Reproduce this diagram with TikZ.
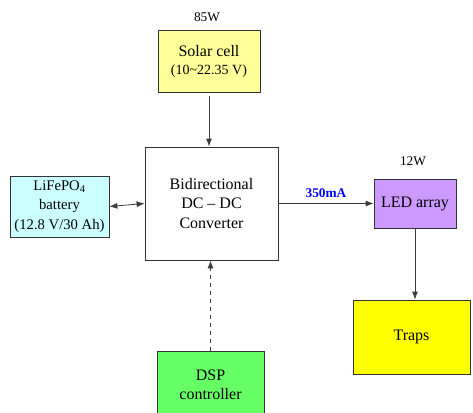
\documentclass[tikz,border=0pt]{standalone}
\usepackage{fontspec}
\setmainfont{Liberation Serif}
\usetikzlibrary{arrows.meta,positioning}
\definecolor{SolarYellow}{RGB}{255,255,153}
\definecolor{BattCyan}{RGB}{204,255,255}
\definecolor{LedPurple}{RGB}{204,153,255}
\definecolor{TrapYellow}{RGB}{255,255,0}
\definecolor{DspGreen}{RGB}{102,255,102}
\definecolor{LineGray}{RGB}{60,60,60}
\definecolor{LabelBlue}{RGB}{0,0,255}

\begin{document}
\begin{tikzpicture}[x=0.75pt,y=-0.75pt,>={Latex[length=6pt,width=4.5pt]},
    blk/.style={draw=black!80,line width=0.6pt,inner sep=0pt,align=center,
      font=\fontsize{12}{14.5}\selectfont},
    conn/.style={LineGray,line width=0.6pt}]
      \useasboundingbox (0,0) rectangle (473,412);
      % blocks
      \node[blk,fill=SolarYellow,minimum width=76.5pt,minimum height=46.5pt] (solar) at (209,61)
        {Solar cell\\[-1pt]{\fontsize{10.5}{12}\selectfont(10\textasciitilde22.35 V)}};
      \node[blk,fill=white,minimum width=99.75pt,minimum height=84.75pt] (dc) at (211.5,203.5)
        {Bidirectional\\DC -- DC\\Converter};
      \node[blk,fill=BattCyan,minimum width=74.25pt,minimum height=45.75pt,
        font=\fontsize{11}{14.5}\selectfont] (batt) at (59.5,206.5)
        {LiFePO\textsubscript{4}\\battery\\(12.8 V/30 Ah)};
      \node[blk,fill=LedPurple,minimum width=61.5pt,minimum height=36.75pt] (led) at (415,203.5)
        {LED array};
      \node[blk,fill=TrapYellow,minimum width=87.75pt,minimum height=55.5pt] (traps) at (411.5,337)
        {Traps};
      \node[blk,fill=DspGreen,minimum width=80.25pt,minimum height=51pt] (dsp) at (210.5,385)
        {DSP\\controller};
      % power ratings
      \node[font=\fontsize{10}{12}\selectfont] (pv) at (207,17) {85W};
      \node[font=\fontsize{10}{12}\selectfont] (pled) at (413,161) {12W};
      % connectors
      \draw[conn,->,shorten <=3pt] (solar.south) -- (solar.south |- dc.north);
      \draw[conn,<->] (batt.east) -- (dc.west);
      \draw[conn,->] (dc.east) -- (led.west)
        node[midway,above=1pt,text=LabelBlue,font=\bfseries\fontsize{10}{12}\selectfont]{350mA};
      \draw[conn,->] (led.south) -- (led.south |- traps.north);
      \draw[conn,->,dashed] (dsp.north) -- (dsp.north |- dc.south);
    \end{tikzpicture}
\end{document}
